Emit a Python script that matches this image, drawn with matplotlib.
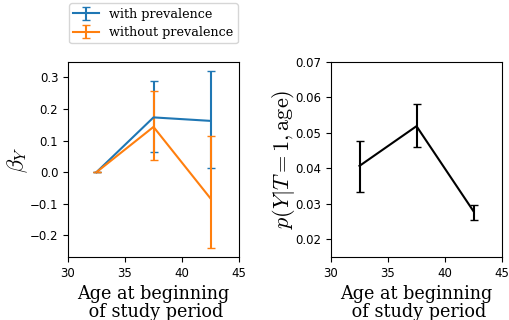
import numpy as np
import matplotlib
matplotlib.use('Agg')
from matplotlib import pyplot as plt

plt.rcParams['font.family'] = 'DejaVu Serif'
plt.rcParams['mathtext.fontset'] = 'cm'

ages = [32.5, 37.5, 42.5]

beta_with = [0.0, 0.173, 0.162]
beta_with_lo = [0.0, 0.063, 0.014]
beta_with_hi = [0.0, 0.288, 0.320]

beta_without = [0.0, 0.143, -0.083]
beta_without_lo = [0.0, 0.038, -0.240]
beta_without_hi = [0.0, 0.257, 0.114]

p_y = [0.0407, 0.0519, 0.0279]
p_y_lo = [0.0332, 0.0460, 0.0253]
p_y_hi = [0.0478, 0.0582, 0.0298]


def yerr(v, lo, hi):
    v, lo, hi = np.array(v), np.array(lo), np.array(hi)
    return [v - lo, hi - v]


def style_ticks(ax):
    ax.tick_params(labelsize=8.5)
    for lab in ax.get_xticklabels() + ax.get_yticklabels():
        lab.set_family('DejaVu Sans')


fig = plt.figure(figsize=(5.1, 3.2), dpi=100)
ax1 = fig.add_axes([68/510, 63/320, 171/510, 195/320])
ax2 = fig.add_axes([331/510, 63/320, 171/510, 195/320])

ax1.errorbar(ages, beta_with, yerr=yerr(beta_with, beta_with_lo, beta_with_hi),
             capsize=3, color='C0', lw=1.5, label='with prevalence')
ax1.errorbar(ages, beta_without, yerr=yerr(beta_without, beta_without_lo, beta_without_hi),
             capsize=3, color='C1', lw=1.5, label='without prevalence')
ax1.set_xlim(30, 45)
ax1.set_ylabel(r'$\beta_Y$', fontsize=16)
ax1.yaxis.set_label_coords(-0.225, 0.5)
ax1.set_xlabel('Age at beginning\n of study period', fontsize=12.7, linespacing=0.95)
style_ticks(ax1)
ax1.legend(loc='lower center', bbox_to_anchor=(0.5, 1.095), fontsize=9.2,
           borderaxespad=0, borderpad=0.35, labelspacing=0.4)

ax2.errorbar(ages, p_y, yerr=yerr(p_y, p_y_lo, p_y_hi), capsize=3, color='k', lw=1.5)
ax2.set_xlim(30, 45)
ax2.set_ylim(0.015, 0.07)
ax2.set_ylabel(r'$p(Y|T=1, \mathrm{age})$', fontsize=16)
ax2.yaxis.set_label_coords(-0.2, 0.5)
ax2.set_xlabel('Age at beginning\n of study period', fontsize=12.7, linespacing=0.95)
style_ticks(ax2)

fig.savefig('out.png', dpi=100)
